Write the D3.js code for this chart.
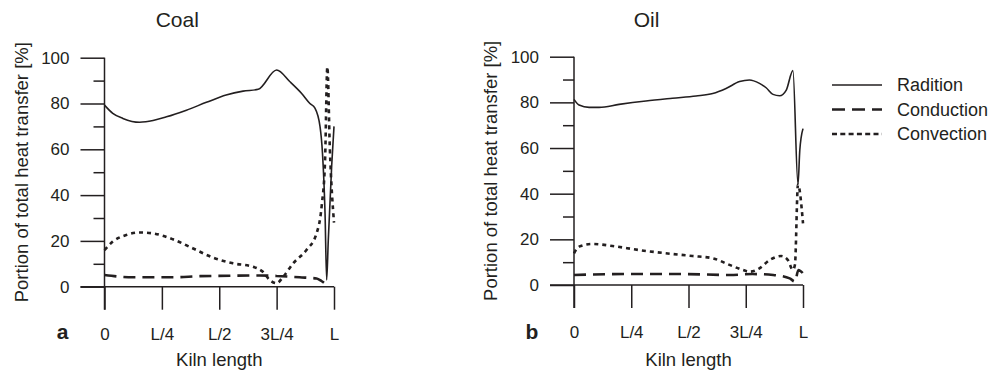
<!DOCTYPE html>
<html><head><meta charset="utf-8">
<script src="https://cdn.jsdelivr.net/npm/d3@7"></script>
<style>
html,body{margin:0;padding:0;background:#fff;}
svg{display:block;font-family:"Liberation Sans",Arial,Helvetica,sans-serif;}
</style></head>
<body><svg id="c" width="994" height="372"></svg>
<script>
// ---- data ----
const xTickPos = [0, 0.25, 0.5, 0.75, 1];
const xTickLabels = ["0", "L/4", "L/2", "3L/4", "L"];
const yMajorTicks = [0, 20, 40, 60, 80, 100];
const yMinorTicks = [10, 30, 50, 70, 90];
const seriesNames = ["Radition", "Conduction", "Convection"];
const panelTitles = ["Coal", "Oil"];
const panelLetters = ["a", "b"];

const coalRadiation = [[0,79.3],[0.036,75.7],[0.08,73.5],[0.153,71.8],[0.18,72],[0.27,74.2],[0.357,77.1],[0.444,80.5],[0.53,83.7],[0.604,85.4],[0.67,86.2],[0.75,94.6],[0.808,89.5],[0.859,84.4],[0.895,80],[0.917,78],[0.939,70],[0.95,58],[0.961,32],[0.968,3],[0.975,20],[0.99,53],[1.0,70]];
const coalConduction = [[0,5.1],[0.124,4.1],[0.3,4.1],[0.415,4.6],[0.56,4.8],[0.677,4.9],[0.75,4.7],[0.85,4.1],[0.924,3.6],[0.945,2.5],[0.968,0.7]];
const coalConvection = [[0,16],[0.036,19.7],[0.095,22.6],[0.153,23.7],[0.211,23.3],[0.298,20.7],[0.386,16.7],[0.473,12.7],[0.56,10.2],[0.648,8.7],[0.69,6.5],[0.72,2.9],[0.75,1.5],[0.779,4.4],[0.822,10.2],[0.88,16],[0.924,23.3],[0.946,35],[0.961,55],[0.971,96],[0.982,60],[1.0,28]];

const oilRadiation = [[0,81.3],[0.022,78.8],[0.066,77.8],[0.11,77.8],[0.197,79.1],[0.314,80.6],[0.43,81.8],[0.533,82.8],[0.606,83.9],[0.664,86.1],[0.723,89.1],[0.766,89.8],[0.81,88.3],[0.839,86.4],[0.869,83.5],[0.898,82.9],[0.927,85.4],[0.956,93.9],[0.978,44],[0.986,59],[1.0,68.5]];
const oilConduction = [[0,4.4],[0.24,4.8],[0.46,4.8],[0.68,4.4],[0.78,4.8],[0.87,4.4],[0.942,2.9],[0.965,1.5],[0.98,6.6],[1.0,5.1]];
const oilConvection = [[0,13.9],[0.022,16.8],[0.08,18],[0.168,17.1],[0.285,15.3],[0.4,13.9],[0.518,12.7],[0.606,11.7],[0.679,8.8],[0.737,6.6],[0.766,5.8],[0.81,7.3],[0.854,10.9],[0.905,12.7],[0.934,10.9],[0.956,6.6],[0.965,9],[0.978,44],[1.0,27]];

// ---- drawing ----
const ink = "#231f20";
const styles = [
  {w: 1.6, dash: null},
  {w: 2.6, dash: "12,7"},
  {w: 2.6, dash: "4,4"}
];
const svg = d3.select("#c");

const panels = [
  {x0: 104.5, x1: 334, yTop: 57.7, yBot: 286.7, series: [coalRadiation, coalConduction, coalConvection]},
  {x0: 574, x1: 803, yTop: 56.7, yBot: 285, series: [oilRadiation, oilConduction, oilConvection]}
];

panels.forEach((p, i) => {
  const x = d3.scaleLinear().domain([0, 1]).range([p.x0, p.x1]);
  const y = d3.scaleLinear().domain([0, 100]).range([p.yBot, p.yTop]);
  const g = svg.append("g");

  // y axis major
  const yAxis = d3.axisLeft(y).tickValues(yMajorTicks).tickSize(24).tickPadding(11).tickSizeOuter(0);
  const ya = g.append("g").attr("transform", `translate(${p.x0},0)`).call(yAxis);
  ya.select(".domain").remove();
  ya.selectAll("line").attr("stroke", ink).attr("stroke-width", 1.5);
  ya.selectAll("text").attr("font-size", 17).attr("fill", ink);
  ya.attr("font-family", null);
  // y minor
  const ym = g.append("g").attr("transform", `translate(${p.x0},0)`)
    .call(d3.axisLeft(y).tickValues(yMinorTicks).tickSize(11).tickFormat(""));
  ym.select(".domain").remove();
  ym.selectAll("line").attr("stroke", ink).attr("stroke-width", 1.5);

  // x axis: ticks downward from baseline
  const xAxis = d3.axisBottom(x).tickValues(xTickPos).tickFormat((d, k) => xTickLabels[k]).tickSize(23).tickPadding(18).tickSizeOuter(0);
  const xa = g.append("g").attr("transform", `translate(0,${p.yBot})`).call(xAxis);
  xa.select(".domain").remove();
  xa.attr("font-family", null);
  xa.selectAll("line").attr("stroke", ink).attr("stroke-width", 1.5);
  xa.selectAll("text").attr("font-size", 17).attr("fill", ink);

  // axis lines
  g.append("line").attr("x1", p.x0).attr("x2", p.x0).attr("y1", y(100)).attr("y2", p.yBot + 23)
    .attr("stroke", ink).attr("stroke-width", 1.5);
  g.append("line").attr("x1", p.x0 - 24).attr("x2", x(1)).attr("y1", y(0)).attr("y2", y(0))
    .attr("stroke", ink).attr("stroke-width", 1.5);

  // series
  const line = d3.line().x(d => x(d[0])).y(d => y(d[1])).curve(d3.curveMonotoneX);
  p.series.forEach((s, k) => {
    g.append("path").attr("d", line(s)).attr("fill", "none").attr("stroke", ink)
      .attr("stroke-width", styles[k].w).attr("stroke-dasharray", styles[k].dash);
  });

  // titles
  const cx = (p.x0 + p.x1) / 2;
  g.append("text").attr("x", cx - 42).attr("y", 27).attr("text-anchor", "middle")
    .attr("font-size", 21).attr("fill", ink).text(panelTitles[i]);
  g.append("text").attr("x", cx).attr("y", 366).attr("text-anchor", "middle")
    .attr("font-size", 18.5).attr("fill", ink).text("Kiln length");
  g.append("text").attr("transform", `translate(${p.x0 - 77},${(p.yTop + p.yBot) / 2}) rotate(-90)`)
    .attr("text-anchor", "middle").attr("font-size", 18.5).attr("fill", ink)
    .text("Portion of total heat transfer [%]");
  g.append("text").attr("x", p.x0 - 42).attr("y", 339).attr("text-anchor", "middle")
    .attr("font-size", 21).attr("font-weight", "bold").attr("fill", ink).text(panelLetters[i]);
});

// legend
const lg = svg.append("g");
seriesNames.forEach((n, k) => {
  const yy = 85 + k * 24.5;
  lg.append("line").attr("x1", 832).attr("x2", 882).attr("y1", yy).attr("y2", yy)
    .attr("stroke", ink).attr("stroke-width", k === 0 ? 1.6 : 2.6)
    .attr("stroke-dasharray", k === 1 ? "13,7" : (k === 2 ? "5,3.3" : null));
  lg.append("text").attr("x", 897).attr("y", yy + 6).attr("font-size", 18).attr("fill", ink).text(n);
});
</script></body></html>
